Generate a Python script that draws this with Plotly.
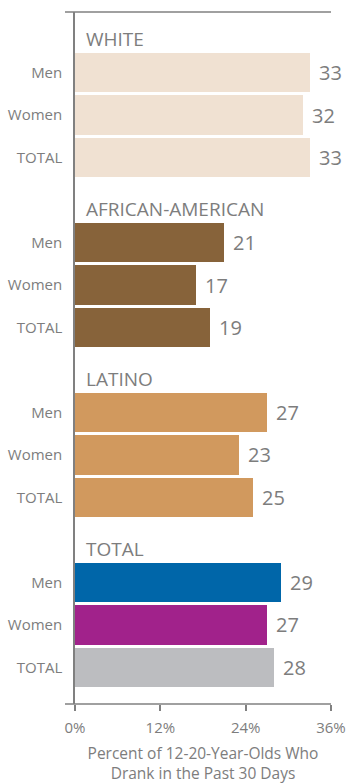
import plotly.graph_objects as go

groups = ["WHITE", "AFRICAN-AMERICAN", "LATINO", "TOTAL"]
subcats = ["Men", "Women", "TOTAL"]
white = [33, 32, 33]
african_american = [21, 17, 19]
latino = [27, 23, 25]
total = [29, 27, 28]
series = [white, african_american, latino, total]
group_colors = [
    ["#F0E1D2"] * 3,
    ["#87633A"] * 3,
    ["#D1995E"] * 3,
    ["#0066A9", "#A1228B", "#BCBDC0"],
]
x_ticks = [0, 12, 24, 36]
x_ticktext = ["0%", "12%", "24%", "36%"]
x_title = "Percent of 12-20-Year-Olds Who<br>Drank in the Past 30 Days"

FONT = "Open Sans"
GRAY = "#7D7D7D"
LINE = "#808080"

fig = go.Figure()
tickvals, ticktext = [], []
annotations = []
for g, (name, vals, cols) in enumerate(zip(groups, series, group_colors)):
    base = g * 4
    ys = [base + 1 + k for k in range(len(vals))]
    fig.add_trace(go.Bar(
        x=vals, y=ys, orientation="h", width=0.92,
        marker=dict(color=cols, line=dict(width=0)),
        hoverinfo="x", showlegend=False,
    ))
    tickvals += ys
    ticktext += subcats
    annotations.append(dict(
        x=0, y=base + 0.21, xref="x", yref="y", text=name, showarrow=False,
        xanchor="left", yanchor="middle", xshift=9,
        font=dict(family=FONT, size=19, color=GRAY),
    ))
    for v, y in zip(vals, ys):
        annotations.append(dict(
            x=v, y=y, xref="x", yref="y", text=str(v), showarrow=False,
            xanchor="left", yanchor="middle", xshift=7,
            font=dict(family=FONT, size=20, color=GRAY),
        ))

shapes = [
    dict(type="line", xref="paper", yref="paper", x0=-10 / 256, x1=1, y0=1, y1=1,
         line=dict(color=LINE, width=1.5)),
    dict(type="line", xref="paper", yref="paper", x0=-10 / 256, x1=1, y0=0, y1=0,
         line=dict(color=LINE, width=1.5)),
]

fig.update_layout(
    width=348, height=784,
    margin=dict(l=75, r=17, t=12, b=80),
    paper_bgcolor="white", plot_bgcolor="white",
    bargap=0,
    annotations=annotations,
    shapes=shapes,
    font=dict(family=FONT, color=GRAY),
    xaxis=dict(
        range=[0, 36], tickvals=x_ticks, ticktext=x_ticktext,
        showgrid=False, zeroline=False, showline=False, automargin=False,
        ticks="outside", ticklen=6, tickcolor=LINE, tickwidth=1.5,
        ticklabelstandoff=4,
        tickfont=dict(family=FONT, size=15, color=GRAY),
        title=dict(text=x_title, font=dict(family=FONT, size=15.5, color=GRAY), standoff=18),
    ),
    yaxis=dict(
        range=[15.859, -0.4235], tickvals=tickvals, ticktext=ticktext,
        showgrid=False, zeroline=False, showline=True, linecolor=LINE, linewidth=1.5,
        ticks="", ticklabelstandoff=8, automargin=False,
        tickfont=dict(family=FONT, size=15, color=GRAY),
    ),
)

fig.write_html(
    "out.html",
    config={"displayModeBar": False},
    post_script="document.body.style.margin='0';document.body.style.overflow='hidden';",
)
